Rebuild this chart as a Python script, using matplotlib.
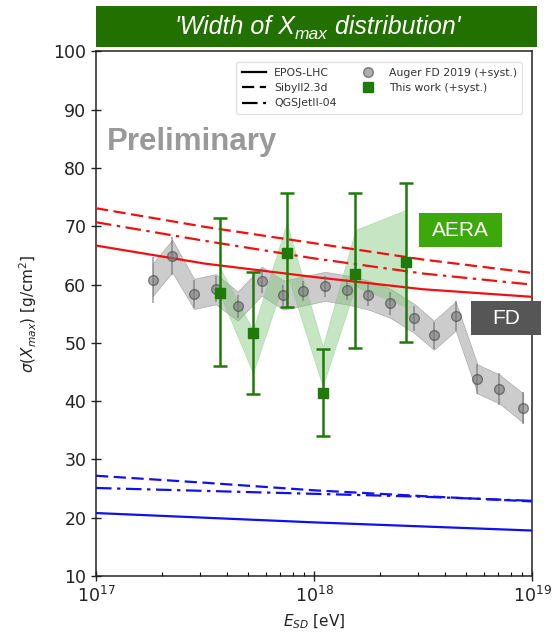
import numpy as np
import matplotlib.pyplot as plt
from matplotlib.lines import Line2D
from matplotlib.patches import Rectangle

# Auger FD 2019: sigma(Xmax) vs lg(E/eV)
fd_lgE = [17.26, 17.35, 17.45, 17.55, 17.65, 17.76, 17.86, 17.95, 18.05,
          18.15, 18.25, 18.35, 18.46, 18.55, 18.65, 18.75, 18.85, 18.96]
fd_sigma = [60.8, 64.9, 58.4, 59.2, 56.3, 60.6, 58.2, 58.9, 59.7,
            59.1, 58.2, 56.8, 54.2, 51.3, 54.6, 43.8, 42.1, 38.8]
fd_stat = [3.9, 3.3, 2.4, 2.2, 2.0, 2.0, 1.8, 1.8, 1.8,
           1.8, 1.9, 2.0, 2.2, 2.3, 2.6, 2.5, 2.7, 2.8]
fd_syst_up = [2.8, 2.8, 2.6, 2.6, 2.5, 2.5, 2.5, 2.5, 2.5,
              2.5, 2.5, 2.5, 2.5, 2.5, 2.5, 2.5, 2.5, 2.5]
fd_syst_lo = [2.8, 2.8, 2.6, 2.6, 2.5, 2.5, 2.5, 2.5, 2.5,
              2.5, 2.5, 2.5, 2.5, 2.5, 2.5, 2.5, 2.5, 2.5]

# This work (AERA)
aera_lgE = [17.57, 17.72, 17.875, 18.04, 18.19, 18.42]
aera_sigma = [58.5, 51.7, 65.5, 41.4, 61.8, 63.9]
aera_err_hi = [71.5, 62.1, 75.7, 48.9, 75.8, 77.4]
aera_err_lo = [46.0, 41.3, 56.2, 34.0, 49.2, 50.1]
aera_band_hi = [62.8, 52.2, 70.6, 49.4, 69.4, 72.8]
aera_band_lo = [58.2, 44.8, 62.0, 42.5, 59.7, 56.2]

# Model predictions (proton and iron)
model_lgE = [17.0, 17.5, 18.0, 18.5, 19.0]
p_epos = [66.7, 63.6, 61.3, 59.2, 57.9]
p_sibyll = [73.1, 69.9, 67.1, 64.3, 62.0]
p_qgsjet = [70.7, 67.5, 64.5, 61.9, 60.0]
fe_epos = [20.8, 20.0, 19.2, 18.5, 17.8]
fe_sibyll = [27.2, 26.0, 24.7, 23.7, 22.8]
fe_qgsjet = [25.1, 24.6, 24.1, 23.6, 22.9]

W, H = 560, 634


def energy(lg):
    return 10.0 ** np.asarray(lg)


def px_box(fig, x0, y0, x1, y1, color, zorder=5):
    """Rectangle given in pixel coordinates measured from the top-left corner."""
    r = Rectangle((x0 / W, 1 - y1 / H), (x1 - x0) / W, (y1 - y0) / H,
                  transform=fig.transFigure, facecolor=color, edgecolor='none',
                  zorder=zorder)
    fig.patches.append(r)


fig = plt.figure(figsize=(5.6, 6.34), dpi=100)
ax = fig.add_axes([0.1714, 0.0915, 0.7786, 0.8273])

# model lines
dash = (0, (5.5, 2.5))
dashdot = (0, (7, 2.5, 1.5, 2.5))
ax.plot(energy(model_lgE), p_epos, color='#f01010', lw=1.6, ls='-', zorder=3)
ax.plot(energy(model_lgE), p_sibyll, color='#f01010', lw=1.6, ls=dash, zorder=3)
ax.plot(energy(model_lgE), p_qgsjet, color='#f01010', lw=1.6, ls=dashdot, zorder=3)
ax.plot(energy(model_lgE), fe_epos, color='#1010f0', lw=1.6, ls='-', zorder=3)
ax.plot(energy(model_lgE), fe_sibyll, color='#1010f0', lw=1.6, ls=dash, zorder=3)
ax.plot(energy(model_lgE), fe_qgsjet, color='#1010f0', lw=1.6, ls=dashdot, zorder=3)

# FD data with systematic band
fd_E = energy(fd_lgE)
fd_s = np.asarray(fd_sigma)
ax.fill_between(fd_E, fd_s - np.asarray(fd_syst_lo), fd_s + np.asarray(fd_syst_up),
                facecolor='#9a9a9a', alpha=0.5, edgecolor='#777777', lw=0.5, zorder=2)
ax.errorbar(fd_E, fd_s, yerr=fd_stat, fmt='o', ms=7, color='#666666',
            mfc='#777777', mec='#444444', alpha=0.6, elinewidth=1.2, capsize=0, zorder=4)

# AERA data with systematic band
a_E = energy(aera_lgE)
a_s = np.asarray(aera_sigma)
ax.fill_between(a_E, aera_band_lo, aera_band_hi, facecolor='#7fc77a', alpha=0.45,
                edgecolor='#7fc77a', lw=0.5, zorder=2.5)
yerr = [a_s - np.asarray(aera_err_lo), np.asarray(aera_err_hi) - a_s]
ax.errorbar(a_E, a_s, yerr=yerr, fmt='s', ms=7.5, color='#1f7a0a', mfc='#1f7a0a',
            mec='#1f7a0a', elinewidth=1.8, capsize=5, capthick=1.8, zorder=5)

ax.set_xscale('log')
ax.set_xlim(1e17, 1e19)
ax.set_ylim(10, 100)
ax.set_yticks(np.arange(10, 101, 10))
ax.tick_params(axis='both', which='major', direction='inout', length=7, width=1,
               labelsize=12.5, colors='#222222')
ax.tick_params(axis='x', which='minor', direction='in', length=3, width=0.8)
for sp in ax.spines.values():
    sp.set_linewidth(1.1)
    sp.set_color('#222222')
ax.set_ylabel(r'$\sigma(X_{max})$ [g/cm$^2$]', fontsize=11, color='#222222', labelpad=10)
ax.set_xlabel(r'$E_{SD}$ [eV]', fontsize=11, color='#222222', labelpad=5)

# legend
handles = [
    Line2D([], [], color='black', lw=1.6, ls='-'),
    Line2D([], [], color='black', lw=1.6, ls=dash),
    Line2D([], [], color='black', lw=1.6, ls=dashdot),
    Line2D([], [], marker='o', ls='none', ms=7, mfc='#777777', mec='#444444', alpha=0.6),
    Line2D([], [], marker='s', ls='none', ms=7, mfc='#1f7a0a', mec='#1f7a0a'),
]
labels = ['EPOS-LHC', 'Sibyll2.3d', 'QGSJetII-04',
          'Auger FD 2019 (+syst.)', 'This work (+syst.)']
leg = ax.legend(handles, labels, ncol=2, loc='upper right', fontsize=7.8,
                frameon=True, framealpha=1, edgecolor='#e2e2e2',
                handlelength=2.2, columnspacing=1.8, borderpad=0.5,
                bbox_to_anchor=(0.99, 0.99))
for t in leg.get_texts():
    t.set_color('#333333')

# annotations
ax.text(0.025, 0.827, 'Preliminary', transform=ax.transAxes, fontsize=22.5,
        fontweight='bold', color='#999999', family='Liberation Sans', va='center')

px_box(fig, 419, 213, 502, 247, '#3da80a', zorder=6)
fig.text(460.5 / W, 1 - 230.5 / H, 'AERA', fontsize=15, color='white',
         family='Liberation Sans', ha='center', va='center', zorder=7)
px_box(fig, 471, 301, 541, 335, '#565656', zorder=6)
fig.text(506 / W, 1 - 318.5 / H, 'FD', fontsize=15, color='white',
         family='Liberation Sans', ha='center', va='center', zorder=7)

# title banner
px_box(fig, 96, 6, 537, 47, '#217000', zorder=0)
renderer = fig.canvas.get_renderer()
title_parts = [("'Width of X", 18, 0.0), ('max', 12.5, -5.0), (" distribution'", 18, 0.0)]
texts = []
for s, fs, dy in title_parts:
    t = fig.text(0, 0, s, fontsize=fs, style='italic', color='white',
                 family='Liberation Sans', ha='left', va='baseline')
    texts.append((t, dy))
widths = [t.get_window_extent(renderer).width for t, _ in texts]
x = 317.5 - sum(widths) / 2
base_y = 34.0
for (t, dy), w in zip(texts, widths):
    t.set_position((x / W, 1 - (base_y - dy) / H))
    x += w

fig.savefig('out.png', dpi=100)
